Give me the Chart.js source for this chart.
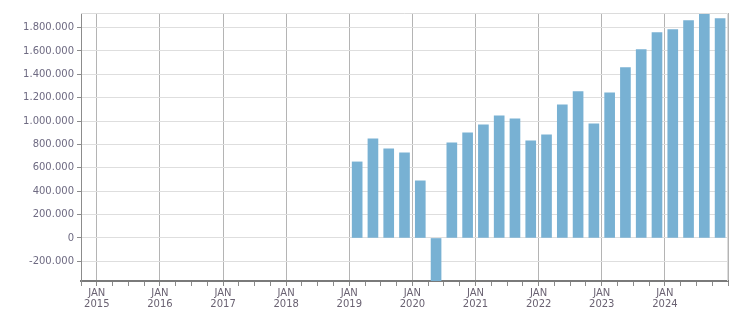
<!DOCTYPE html>
<html>
<head>
<meta charset="utf-8">
<script src="https://cdn.jsdelivr.net/npm/chart.js@4/dist/chart.umd.min.js"></script>
<style>
  html, body { margin: 0; padding: 0; background: #ffffff; }
  #wrap { width: 751px; height: 313px; position: relative; }
</style>
</head>
<body>
<div id="wrap"><canvas id="c"></canvas></div>
<script>
// ---- data ----
const quarters = [
  '2019-Q1','2019-Q2','2019-Q3','2019-Q4',
  '2020-Q1','2020-Q2','2020-Q3','2020-Q4',
  '2021-Q1','2021-Q2','2021-Q3','2021-Q4',
  '2022-Q1','2022-Q2','2022-Q3','2022-Q4',
  '2023-Q1','2023-Q2','2023-Q3','2023-Q4',
  '2024-Q1','2024-Q2','2024-Q3','2024-Q4'
];
const values = [
  651000, 849000, 763000, 729000,
  489000, -368000, 814000, 900000,
  969000, 1046000, 1020000, 831000,
  883000, 1140000, 1252000, 977000,
  1243000, 1457000, 1612000, 1757000,
  1783000, 1860000, 1925000, 1877000
];
const tickYears = [2015, 2016, 2017, 2018, 2019, 2020, 2021, 2022, 2023, 2024];
const tickMonth = 'JAN';
const yTickValues = [-200000, 0, 200000, 400000, 600000, 800000, 1000000, 1200000, 1400000, 1600000, 1800000];
const firstYear = tickYears[0];

function quarterToX(q) {
  const [y, qq] = q.split('-Q');
  return (Number(y) - firstYear) * 4 + (Number(qq) - 1) + 0.5;
}
const points = quarters.map((q, i) => ({ x: quarterToX(q), y: values[i] }));

function fmt(v) {
  const s = Math.abs(Math.round(v)).toString().replace(/\B(?=(\d{3})+(?!\d))/g, '.');
  return (v < 0 ? '-' : '') + s;
}

const frame = {
  id: 'frame',
  afterDraw(chart) {
    const a = chart.chartArea, ctx = chart.ctx;
    ctx.save();
    ctx.strokeStyle = '#dcdcdc';
    ctx.lineWidth = 1;
    ctx.beginPath();
    ctx.moveTo(a.left, a.top + 0.5);
    ctx.lineTo(a.right - 0.5, a.top + 0.5);
    ctx.lineTo(a.right - 0.5, a.bottom);
    ctx.stroke();
    ctx.restore();
  }
};

new Chart(document.getElementById('c'), {
  type: 'bar',
  data: {
    datasets: [{
      data: points,
      backgroundColor: '#78b1d3',
      borderWidth: 0,
      barThickness: 10
    }]
  },
  options: {
    responsive: true,
    maintainAspectRatio: false,
    animation: false,
    layout: { padding: { left: 0, right: 23, top: 13, bottom: 0 } },
    plugins: { legend: { display: false }, tooltip: { enabled: false } },
    scales: {
      x: {
        type: 'linear',
        offset: false,
        min: -1,
        max: (tickYears[tickYears.length - 1] - firstYear + 1) * 4,
        afterFit(s) { s.height = 32; },
        border: { display: true, color: '#7a7a7a', width: 2 },
        grid: {
          offset: false,
          color: (c) => (c.tick && c.tick.value % 4 === 0) ? '#b4b4b4' : 'rgba(0,0,0,0)',
          tickColor: '#8a8a8a',
          tickLength: 5,
          lineWidth: 1
        },
        ticks: {
          stepSize: 1,
          autoSkip: false,
          maxRotation: 0,
          padding: 2,
          color: '#6a6272',
          font: { family: 'DejaVu Sans', size: 10, lineHeight: 1.1 },
          callback: (v) => {
            if (v % 4 !== 0) return '';
            const y = firstYear + v / 4;
            return tickYears.includes(y) ? [tickMonth, String(y)] : '';
          }
        }
      },
      y: {
        min: Math.min(...values),
        max: Math.max(...values),
        afterFit(s) { s.width = 81; },
        afterBuildTicks(s) { s.ticks = yTickValues.map(v => ({ value: v })); },
        border: { display: true, color: '#8c8c8c', width: 1 },
        grid: {
          color: '#dedede',
          tickColor: '#8c8c8c',
          tickLength: 4,
          lineWidth: 1
        },
        ticks: {
          padding: 3,
          color: '#6e6a82',
          font: { family: 'DejaVu Sans', size: 10 },
          callback: (v) => fmt(v)
        }
      }
    }
  },
  plugins: [frame]
});
</script>
</body>
</html>
